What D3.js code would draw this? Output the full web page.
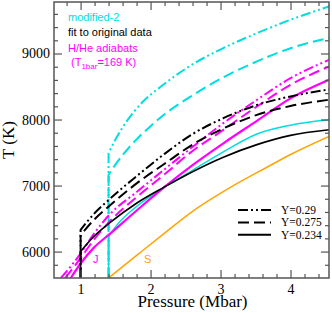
<!DOCTYPE html>
<html>
<head>
<meta charset="utf-8">
<script src="https://cdn.jsdelivr.net/npm/d3@7"></script>
<style>
  html, body { margin: 0; padding: 0; background: #fff; }
  svg { display: block; }
  .tick-label { font-family: "Liberation Serif", "DejaVu Serif", serif; font-size: 14px; }
  .axis-title { font-family: "Liberation Serif", "DejaVu Serif", serif; font-size: 17px; }
  .legend-text { font-family: "Liberation Serif", "DejaVu Serif", serif; font-size: 11.5px; }
  .note { font-family: "Liberation Sans", Arial, sans-serif; font-size: 11px; }
</style>
</head>
<body>
<div id="chart"></div>
<script>
'use strict';

// Axis limits (Mbar, K)
const pressureDomain = [0.62, 4.55];
const tempDomain = [5600, 9780];
const xMajorTicks = [1, 2, 3, 4];
const yMajorTicks = [6000, 7000, 8000, 9000];

// Fit to original data (black), start at 1 Mbar
const pBlack = [1.0, 1.19, 1.41, 1.81, 2.2, 2.6, 3.04, 3.52, 4.0, 4.55];
const tBlack290 = [6330, 6570, 6790, 7150, 7480, 7780, 8020, 8220, 8350, 8455];
const tBlack275 = [6250, 6480, 6690, 7040, 7330, 7620, 7865, 8070, 8205, 8300];
const tBlack234 = [6000, 6230, 6430, 6740, 6980, 7210, 7430, 7620, 7760, 7845];

// modified-2 (cyan), start at 1.4 Mbar
const pCyan290 = [1.4, 1.5, 1.6, 1.75, 1.9, 2.1, 2.35, 2.56, 3.04, 3.52, 4.0, 4.55];
const tCyan290 = [7491, 7700, 7880, 8100, 8280, 8460, 8660, 8810, 9082, 9308, 9511, 9712];
const pCyan275 = [1.4, 1.5, 1.6, 1.8, 2.0, 2.2, 2.56, 3.04, 3.52, 4.0, 4.55];
const tCyan275 = [7160, 7320, 7460, 7700, 7900, 8080, 8340, 8640, 8880, 9080, 9235];
const pCyan234 = [1.4, 1.55, 1.75, 2.0, 2.22, 2.57, 3.04, 3.52, 4.0, 4.55];
const tCyan234 = [6230, 6440, 6640, 6840, 6990, 7212, 7510, 7780, 7915, 7995];

// H/He adiabats (magenta)
const pMag290 = [0.72, 1.0, 1.19, 1.41, 1.81, 2.19, 2.57, 3.04, 3.52, 4.0, 4.55];
const tMag290 = [5600, 5970, 6270, 6556, 6909, 7238, 7560, 7945, 8298, 8626, 8904];
const pMag275 = [0.78, 1.0, 1.19, 1.41, 1.81, 2.2, 2.56, 3.04, 3.52, 4.0, 4.55];
const tMag275 = [5600, 5900, 6180, 6450, 6833, 7170, 7491, 7844, 8197, 8525, 8803];
const pMag234 = [0.86, 1.0, 1.19, 1.41, 1.81, 2.2, 2.6, 3.04, 3.52, 4.0, 4.55];
const tMag234 = [5600, 5820, 6060, 6260, 6630, 6980, 7310, 7640, 7980, 8320, 8601];

// Saturn adiabat (orange)
const pSaturn = [1.4, 1.81, 2.2, 2.6, 3.17, 3.65, 4.0, 4.55];
const tSaturn = [5600, 5950, 6280, 6610, 6990, 7270, 7470, 7745];

const legendLabels = ['Y=0.29', 'Y=0.275', 'Y=0.234'];

const colors = { black: '#000', cyan: '#00dede', magenta: '#ff00ff', orange: '#ffa500', frame: '#555' };
const dashStyles = { dashdot: '10,3,2,3,2,3', dashed: '11,5', solid: null };

const width = 332, height = 313;
const plot = { left: 54, right: 329, top: 2, bottom: 278 };

const x = d3.scaleLinear().domain(pressureDomain).range([plot.left, plot.right]);
const y = d3.scaleLinear().domain(tempDomain).range([plot.bottom, plot.top]);

const svg = d3.select('#chart').append('svg')
    .attr('width', width)
    .attr('height', height);

svg.append('defs').append('clipPath')
    .attr('id', 'plot-clip')
    .append('rect')
    .attr('x', plot.left).attr('y', plot.top)
    .attr('width', plot.right - plot.left)
    .attr('height', plot.bottom - plot.top);

// Build the series list from the arrays above
const zip = (ps, ts) => ps.map((p, i) => ({ p, t: ts[i] }));
const series = [
    { pts: zip(pSaturn, tSaturn), color: colors.orange, dash: dashStyles.solid, w: 1.5 },
    { pts: zip(pCyan234, tCyan234), color: colors.cyan, dash: dashStyles.solid, w: 1.5, riser: true },
    { pts: zip(pCyan275, tCyan275), color: colors.cyan, dash: dashStyles.dashed, w: 2, riser: true },
    { pts: zip(pCyan290, tCyan290), color: colors.cyan, dash: dashStyles.dashdot, w: 2, riser: true },
    { pts: zip(pMag234, tMag234), color: colors.magenta, dash: dashStyles.solid, w: 2.2 },
    { pts: zip(pMag275, tMag275), color: colors.magenta, dash: dashStyles.dashed, w: 2 },
    { pts: zip(pMag290, tMag290), color: colors.magenta, dash: dashStyles.dashdot, w: 2 },
    { pts: zip(pBlack, tBlack234), color: colors.black, dash: dashStyles.solid, w: 1.6, riser: true },
    { pts: zip(pBlack, tBlack275), color: colors.black, dash: dashStyles.dashed, w: 2, riser: true },
    { pts: zip(pBlack, tBlack290), color: colors.black, dash: dashStyles.dashdot, w: 2, riser: true }
];

const lineGen = d3.line()
    .x(d => x(d.p))
    .y(d => y(d.t))
    .curve(d3.curveMonotoneX);

// Curves with a "riser" start with a vertical segment from the bottom of the plot
function pathFor(s){
    let d = lineGen(s.pts);
    if (!s.riser) return d;
    let p0 = s.pts[0];
    return `M${x(p0.p)},${y(tempDomain[0])}L` + d.slice(1);
}

svg.append('g')
    .attr('clip-path', 'url(#plot-clip)')
    .selectAll('path')
    .data(series)
    .join('path')
    .attr('d', pathFor)
    .attr('fill', 'none')
    .attr('stroke', s => s.color)
    .attr('stroke-width', s => s.w)
    .attr('stroke-dasharray', s => s.dash);

// Axes: inward ticks on all four sides
const xMinor = d3.range(0.8, 4.5, 0.2).filter(v => xMajorTicks.every(m => Math.abs(m - v) > 1e-6));
const yMinor = d3.range(5800, 9700, 200).filter(v => v % 1000 !== 0);

function drawAxis(axisFn, scale, ticks, size, transform, padding){
    let labels = padding !== undefined;
    let g = svg.append('g')
        .attr('transform', transform)
        .call(axisFn(scale).tickValues(ticks).tickSize(size).tickPadding(labels ? padding : 0)
            .tickFormat(labels ? d3.format('d') : ''));
    g.select('.domain').remove();
    g.selectAll('line').attr('stroke', colors.frame).attr('stroke-width', 1.2);
    g.selectAll('text').attr('class', 'tick-label').attr('fill', '#000');
    g.attr('font-size', null).attr('font-family', null);
    return g;
}

drawAxis(d3.axisBottom, x, xMajorTicks, -8, `translate(0,${plot.bottom})`, 6);
drawAxis(d3.axisBottom, x, xMinor, -4, `translate(0,${plot.bottom})`);
drawAxis(d3.axisTop, x, xMajorTicks, -8, `translate(0,${plot.top})`);
drawAxis(d3.axisTop, x, xMinor, -4, `translate(0,${plot.top})`);
drawAxis(d3.axisLeft, y, yMajorTicks, -8, `translate(${plot.left},0)`, 4);
drawAxis(d3.axisLeft, y, yMinor, -4, `translate(${plot.left},0)`);
drawAxis(d3.axisRight, y, yMajorTicks, -8, `translate(${plot.right},0)`);
drawAxis(d3.axisRight, y, yMinor, -4, `translate(${plot.right},0)`);

// Frame
svg.append('rect')
    .attr('x', plot.left).attr('y', plot.top)
    .attr('width', plot.right - plot.left)
    .attr('height', plot.bottom - plot.top)
    .attr('fill', 'none')
    .attr('stroke', colors.frame)
    .attr('stroke-width', 1.5);

// Axis titles
svg.append('text')
    .attr('class', 'axis-title')
    .attr('x', (plot.left + plot.right) / 2 + 1)
    .attr('y', 307)
    .attr('text-anchor', 'middle')
    .text('Pressure (Mbar)');

svg.append('text')
    .attr('class', 'axis-title')
    .attr('transform', `translate(14,${(plot.top + plot.bottom) / 2}) rotate(-90)`)
    .attr('text-anchor', 'middle')
    .text('T (K)');

// Notes in the upper left
const notes = svg.append('g').attr('class', 'note');
notes.append('text').attr('x', 68).attr('y', 21).attr('fill', colors.cyan).text('modified-2');
notes.append('text').attr('x', 68).attr('y', 36).attr('fill', '#000').text('fit to original data');
notes.append('text').attr('x', 68).attr('y', 52).attr('fill', colors.magenta).text('H/He adiabats');
let sub = notes.append('text').attr('x', 71).attr('y', 66).attr('fill', colors.magenta);
sub.append('tspan').text('(T');
sub.append('tspan').attr('dy', 3).style('font-size', '8px').text('1bar');
sub.append('tspan').attr('dy', -3).text('=169 K)');

// Planet labels
notes.append('text').attr('x', 93).attr('y', 263).attr('fill', colors.magenta).text('J');
notes.append('text').attr('x', 144).attr('y', 263).attr('fill', colors.orange).text('S');

// Legend for helium fractions
const legendRows = [dashStyles.dashdot, dashStyles.dashed, dashStyles.solid];
const legend = svg.append('g').attr('transform', 'translate(238,210)');
legend.selectAll('line')
    .data(legendRows)
    .join('line')
    .attr('x1', 0).attr('x2', 33)
    .attr('y1', (d, i) => i * 12.4).attr('y2', (d, i) => i * 12.4)
    .attr('stroke', '#000')
    .attr('stroke-width', 2)
    .attr('stroke-dasharray', d => d);
legend.selectAll('text')
    .data(legendLabels)
    .join('text')
    .attr('class', 'legend-text')
    .attr('x', 43)
    .attr('y', (d, i) => i * 12.4 + 4)
    .text(d => d);
</script>
</body>
</html>
